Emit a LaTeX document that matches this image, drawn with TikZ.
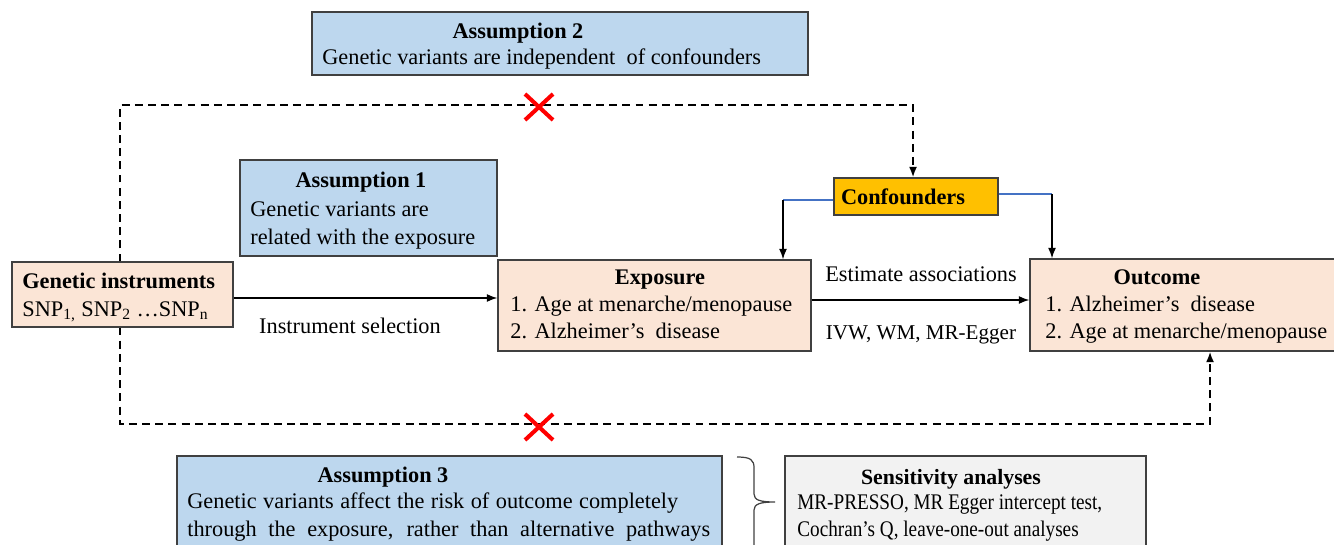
\documentclass[tikz,border=0pt]{standalone}
\usepackage{fontspec}
\setmainfont{Liberation Serif}
\newfontfamily\condserif[FakeStretch=0.86]{Liberation Serif}
\usetikzlibrary{arrows.meta,fit}
\definecolor{abl}{HTML}{BDD7EE}
\definecolor{peach}{HTML}{FBE5D6}
\definecolor{gold}{HTML}{FFC000}
\definecolor{lgray}{HTML}{F2F2F2}
\definecolor{boxline}{HTML}{404040}
\definecolor{blu}{HTML}{4472C4}
\begin{document}
\begin{tikzpicture}[x=0.02cm,y=-0.02cm,
  font=\fontsize{12.7}{15}\selectfont,
  box/.style={draw=boxline, line width=0.6pt, inner sep=0pt},
  txt/.style={inner sep=0pt, anchor=base west},
  lbl/.style={inner sep=0pt, anchor=base},
  ttl/.style={inner sep=0pt, anchor=base, font=\fontsize{12.7}{15}\selectfont\bfseries},
  arr/.style={-{Latex[length=6pt,width=4.5pt]}, line width=0.9pt},
  dsh/.style={dash pattern=on 4.5pt off 3pt, line width=1.1pt},
  bline/.style={draw=blu, line width=0.9pt},
  cross/.style={draw=red, line width=2.3pt}]
\useasboundingbox (0,0) rectangle (1334,544);
\clip (0,0) rectangle (1334,544);

% Assumption 2
\node[box, fill=abl, fit={(312,12)(808,75)}] (a2) {};
\node[ttl] (a2t) at (518,39) {Assumption 2};
\node[txt] (a2b) at (322,65) {Genetic variants are independent\ \ of confounders};

% Assumption 1
\node[box, fill=abl, fit={(240,160)(497,256)}] (a1) {};
\node[ttl] (a1t) at (361,187) {Assumption 1};
\node[txt] (a1b) at (250,216) {Genetic variants are};
\node[txt] (a1c) at (250,244) {related with the exposure};

% Genetic instruments
\node[box, fill=peach, fit={(12,262)(233,327)}] (gi) {};
\node[txt, font=\fontsize{12.7}{15}\selectfont\bfseries] (git) at (22,288) {Genetic instruments};
\node[txt] (gib) at (22,316) {SNP\textsubscript{1,} SNP\textsubscript{2} \ldots SNP\textsubscript{n}};

% Exposure
\node[box, fill=peach, fit={(498,260)(811,351)}] (ex) {};
\node[ttl] (ext) at (660,284) {Exposure};
\node[txt] (exb) at (510,311) {1. Age at menarche/menopause};
\node[txt] (exc) at (510,338) {2. Alzheimer’s\ \ disease};

% Outcome
\node[box, fill=peach, fit={(1030,259)(1345,351)}] (out) {};
\node[ttl] (outt) at (1157,284) {Outcome};
\node[txt] (outb) at (1045,311) {1. Alzheimer’s\ \ disease};
\node[txt] (outc) at (1045,338) {2. Age at menarche/menopause};

% Confounders
\node[box, fill=gold, fit={(834,178)(998,215)}] (conf) {};
\node[ttl] (conft) at (903,204) {Confounders};

% Assumption 3
\node[box, fill=abl, fit={(177,456)(722,570)}] (a3) {};
\node[ttl] (a3t) at (383,482) {Assumption 3};
\node[txt] (a3b) at (187,508) {\makebox[9.82cm][s]{Genetic variants affect the risk of outcome completely}};
\node[txt] (a3c) at (187,536) {\makebox[10.46cm][s]{through the exposure, rather than alternative pathways}};

% Sensitivity analyses
\node[box, fill=lgray, fit={(785,456)(1146,570)}] (sa) {};
\node[ttl, font=\fontsize{12.4}{15}\selectfont\bfseries] (sat) at (951,484) {Sensitivity analyses};
\node[txt, font=\condserif\fontsize{12.7}{15}\selectfont] (sab) at (797,509) {MR-PRESSO, MR Egger intercept test,};
\node[txt, font=\condserif\fontsize{12.7}{15}\selectfont] (sac) at (797,536) {Cochran’s Q, leave-one-out analyses};

% main arrows
\draw[arr] (gi.east |- 0,298) -- (ex.west |- 0,298);
\node[lbl] (isel) at (350,333) {Instrument selection};
\draw[arr] (ex.east |- 0,300) -- (out.west |- 0,300);
\node[lbl] (esta) at (921,281) {Estimate associations};
\node[lbl, font=\fontsize{12}{14}\selectfont] (ivw) at (921,339) {IVW, WM, MR-Egger};

% confounder links
\coordinate (cl) at (783,200);
\coordinate (cr) at (1052,194);
\draw[bline] (conf.west |- cl) -- (cl);
\draw[arr] (cl) -- (cl |- ex.north);
\draw[bline] (conf.east |- cr) -- (cr);
\draw[arr] (cr) -- (cr |- out.north);

% dashed paths
\coordinate (tl) at (120,105);
\coordinate (tr) at (913,105);
\draw[dsh, -{Latex[length=6pt,width=4.5pt]}] (tl |- gi.north) -- (tl) -- (tr) -- (tr |- conf.north);
\coordinate (bl) at (120,424);
\coordinate (br) at (1210,424);
\draw[dsh, -{Latex[length=6pt,width=4.5pt]}] (bl |- gi.south) -- (bl) -- (br) -- (br |- out.south);

% crosses
\coordinate (x1) at (539,107);
\coordinate (x2) at (539,427);
\draw[cross] (x1) ++(-14,-13) -- ++(28,26) (x1) ++(-14,13) -- ++(28,-26);
\draw[cross] (x2) ++(-14,-13) -- ++(28,26) (x2) ++(-14,13) -- ++(28,-26);

% brace
\coordinate (btip) at (775,502);
\draw[line width=0.7pt, draw=boxline] (737,457) .. controls (751,457) and (754,460) .. (754,468) -- (754,494)
  .. controls (754,500) and (760,502) .. (btip)
  .. controls (760,502) and (754,504) .. (754,510) -- (754,560);
\end{tikzpicture}
\end{document}
